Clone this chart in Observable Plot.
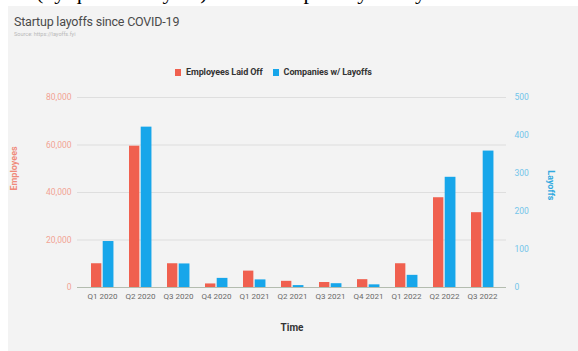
<!DOCTYPE html>
<html>
<head>
<meta charset="utf-8">
<script src="https://cdn.jsdelivr.net/npm/d3@7"></script>
<script src="https://cdn.jsdelivr.net/npm/@observablehq/plot@0.6"></script>
<style>
  html, body { margin: 0; padding: 0; background: #fff; width: 578px; height: 351px; overflow: hidden; }
  body { position: relative; font-family: Roboto, "Noto Sans", sans-serif; }
  #caption { position: absolute; left: 0; top: 0; width: 578px; height: 6px; overflow: hidden; }
  #caption span { position: absolute; left: 36px; top: -19px; font: 22px/22px "Liberation Serif", serif; color: #000; white-space: nowrap; }
  #panel { position: absolute; left: 8px; top: 6px; width: 570px; height: 345px; background: #f3f3f3; }
  #title { position: absolute; left: 14px; top: 15px; font-size: 12.5px; line-height: 14px; color: #4a4a4a; letter-spacing: -0.2px; }
  #source { position: absolute; left: 14px; top: 31px; font-size: 5.5px; line-height: 7px; color: #b8b8b8; }
  #legend { position: absolute; left: 175px; top: 67px; display: flex; align-items: center; font-size: 9px; line-height: 10px; font-weight: bold; color: #333; letter-spacing: -0.1px; }
  #legend .sw { width: 6px; height: 7px; margin-right: 5px; }
  #legend .item { display: flex; align-items: center; margin-right: 10px; }
  #chart { position: absolute; left: 0; top: 85px; }
</style>
</head>
<body>
<div id="caption"><span>(by quarter of year)Source: https://layoffs.fyi</span></div>
<div id="panel"></div>
<div id="title">Startup layoffs since COVID-19</div>
<div id="source">Source: https://layoffs.fyi</div>
<div id="legend"></div>
<div id="chart"></div>
<script>
// Quarterly startup layoffs since the start of COVID-19
const quarters = ["Q1 2020", "Q2 2020", "Q3 2020", "Q4 2020", "Q1 2021", "Q2 2021",
                  "Q3 2021", "Q4 2021", "Q1 2022", "Q2 2022", "Q3 2022"];
const employeesLaidOff = [10000, 59500, 10000, 1500, 6900, 2600, 2100, 3300, 10000, 37800, 31500];
const companiesWithLayoffs = [121, 422, 62, 24, 20, 5, 10, 7, 32, 290, 359];

const employeeTicks = [0, 20000, 40000, 60000, 80000];
const companyTicks = [0, 100, 200, 300, 400, 500];

const seriesNames = ["Employees Laid Off", "Companies w/ Layoffs"];
const seriesColors = ["#f0604f", "#17a6ea"];

// The right axis (companies) shares the left scale: 500 companies ↔ 80,000 employees
const SCALE = 80000 / 500;

const rows = quarters.map((q, i) => ({
  quarter: q,
  employees: employeesLaidOff[i],
  companies: companiesWithLayoffs[i]
}));

// Legend
const legend = document.getElementById("legend");
seriesNames.forEach((name, i) => {
  const item = document.createElement("div");
  item.className = "item";
  const sw = document.createElement("div");
  sw.className = "sw";
  sw.style.background = seriesColors[i];
  const label = document.createElement("span");
  label.textContent = name;
  item.append(sw, label);
  legend.append(item);
});

const chart = Plot.plot({
  width: 578,
  height: 266,
  marginTop: 12,
  marginBottom: 64,
  marginLeft: 77,
  marginRight: 72,
  style: {background: "transparent", fontFamily: "Roboto, sans-serif", fontSize: "8px"},
  x: {domain: quarters, paddingInner: 0, paddingOuter: 0.12, axis: null},
  y: {domain: [0, 80000], axis: null},
  marks: [
    Plot.ruleY(employeeTicks.slice(1), {stroke: "#dedede", strokeWidth: 1.2}),
    Plot.barY(rows, {x: "quarter", y: "employees", fill: seriesColors[0], insetLeft: 8, insetRight: 19.65}),
    Plot.barY(rows, {x: "quarter", y: d => d.companies * SCALE, fill: seriesColors[1], insetLeft: 19.7, insetRight: 7.55}),
    Plot.ruleY([0], {stroke: "#b3bcaf", strokeWidth: 1.2}),
    Plot.axisX({tickSize: 0, tickPadding: 6, fill: "#6a6a6a", fontSize: 8, label: null}),
    Plot.axisY({anchor: "left", ticks: employeeTicks, tickFormat: d3.format(","), tickSize: 0, tickPadding: 6,
                fill: "#f2a393", fontSize: 8.5, label: null}),
    Plot.axisY({anchor: "right", ticks: companyTicks.map(v => v * SCALE), tickFormat: d => d3.format("d")(d / SCALE),
                tickSize: 0, tickPadding: 8, fill: "#72c5ea", fontSize: 8.5, label: null}),
    Plot.text(["Employees"], {text: d => d, frameAnchor: "left", dx: -63, dy: -2, rotate: -90,
                              fill: "#f08a7b", fontSize: 9, fontWeight: "bold"}),
    Plot.text(["Layoffs"], {text: d => d, frameAnchor: "right", dx: 44, dy: 8, rotate: 90,
                            fill: "#2fa9e0", fontSize: 9, fontWeight: "bold"}),
    Plot.text(["Time"], {text: d => d, frameAnchor: "bottom", dy: 43, fill: "#333", fontSize: 10, fontWeight: "bold"})
  ]
});
document.getElementById("chart").append(chart);
</script>
</body>
</html>
